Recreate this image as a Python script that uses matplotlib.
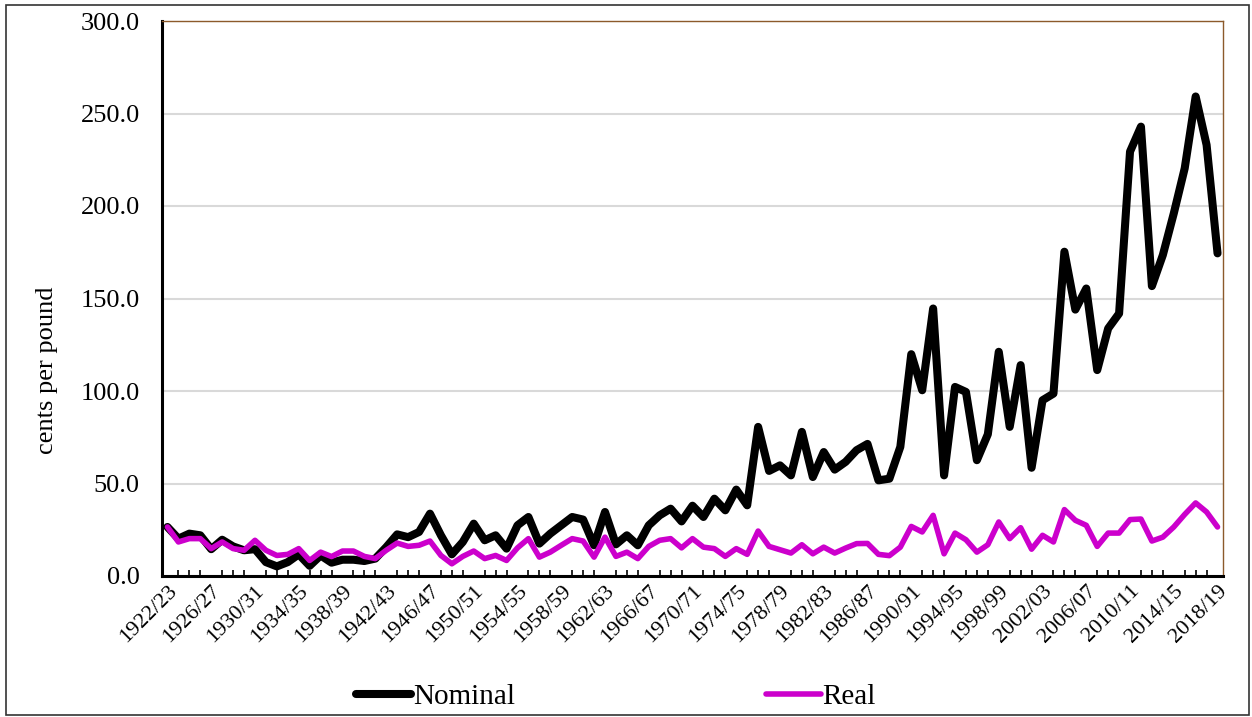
import matplotlib
matplotlib.use("Agg")
import matplotlib.pyplot as plt
from matplotlib.patches import Rectangle

# crop years 1922/23 .. 2018/19
years = [f"{y}/{(y + 1) % 100:02d}" for y in range(1922, 2019)]

nominal = [26.5, 20.2, 22.9, 22.0, 14.5, 19.6, 16.0, 13.9, 14.5, 7.5,
           5.2, 7.5, 11.7, 5.5, 11.1, 7.2, 8.8, 8.8, 8.1, 9.4,
           15.6, 22.5, 21.0, 23.8, 33.7, 22.0, 11.7, 18.4, 28.3, 19.3,
           22.0, 14.8, 27.4, 31.9, 17.5, 22.9, 27.4, 31.9, 30.5, 16.6,
           34.6, 17.1, 22.0, 16.6, 27.4, 32.8, 36.4, 29.5, 38.0, 31.9,
           41.8, 35.5, 46.7, 38.2, 80.6, 56.8, 59.8, 54.4, 77.9, 53.5,
           67.0, 57.5, 61.7, 68.0, 71.4, 51.7, 52.6, 69.8, 119.9, 100.4,
           144.6, 54.4, 102.2, 99.5, 62.6, 76.6, 121.2, 80.6, 114.0, 58.5,
           95.0, 98.6, 175.3, 144.0, 155.4, 111.3, 133.8, 141.9, 229.4, 242.9,
           156.7, 173.5, 196.0, 220.4, 259.2, 233.0, 174.4]

real = [26.5, 18.4, 20.2, 20.2, 14.8, 18.4, 14.8, 13.9, 19.3, 13.9,
        11.1, 11.7, 14.8, 8.4, 12.9, 10.5, 13.5, 13.5, 10.6, 9.4,
        13.9, 17.8, 16.0, 16.6, 18.9, 11.1, 6.6, 10.6, 13.5, 9.4,
        11.1, 8.4, 15.2, 20.2, 10.2, 12.9, 16.6, 20.2, 18.9, 10.2,
        21.0, 10.6, 12.9, 9.4, 16.0, 19.3, 20.2, 15.2, 20.2, 15.6,
        14.8, 10.6, 14.8, 11.7, 24.3, 16.0, 14.2, 12.4, 16.9, 12.0,
        15.6, 12.4, 15.1, 17.5, 17.6, 11.7, 11.0, 15.6, 26.8, 23.8,
        32.8, 12.0, 23.2, 19.6, 12.9, 16.9, 29.2, 20.2, 26.1, 14.5,
        22.0, 18.4, 35.9, 30.1, 27.4, 16.0, 23.2, 23.2, 30.5, 30.8,
        18.9, 21.0, 26.5, 33.3, 39.5, 34.6, 26.5]

plt.rcParams['font.family'] = ['Liberation Serif', 'DejaVu Serif']

fig = plt.figure(figsize=(12.52, 7.17), dpi=100)
ax = fig.add_axes([162/1252, 1 - 576/717, (1223 - 162)/1252, (576 - 21)/717])

x = list(range(len(years)))
ax.plot(x, nominal, color="black", lw=5.8, label="Nominal",
        solid_joinstyle="round", solid_capstyle="round", zorder=3)
ax.plot(x, real, color="#cc00cc", lw=4.0, label="Real",
        solid_joinstyle="round", solid_capstyle="round", zorder=4)

ax.set_xlim(-0.5, len(years) - 0.5)
ax.set_ylim(0, 300)
ax.set_yticks(range(0, 301, 50))
ax.set_yticklabels([f"{v:.1f}" for v in range(0, 301, 50)], fontsize=19)
ax.yaxis.grid(True, color="#d9d9d9", lw=1.5)
ax.set_axisbelow(True)
ax.tick_params(axis='y', length=0, pad=16)

ax.set_xticks(x[::4])
ax.set_xticklabels(years[::4], rotation=45, ha='right', rotation_mode='anchor',
                   fontsize=16)
ax.set_xticks(x, minor=True)
ax.tick_params(axis='x', which='major', length=0, pad=4)
ax.tick_params(axis='x', which='minor', direction='in', length=4, width=1.2)

for s in ['top', 'right']:
    ax.spines[s].set_color("#8c5a2b")
    ax.spines[s].set_linewidth(1.0)
for s in ['left', 'bottom']:
    ax.spines[s].set_color("black")
    ax.spines[s].set_linewidth(2.2)

fig.text(47/1252, 1 - 370/717, "cents per pound", rotation=90,
         ha='center', va='center', fontsize=19)

fig.legend(loc='center', bbox_to_anchor=(616/1252, 1 - 697/717), ncol=2,
           frameon=False, fontsize=21, handlelength=1.9, handletextpad=0.05,
           columnspacing=8.6)

fig.patches.append(Rectangle((6/1252, 2/717), 1243/1252, 710/717,
                             transform=fig.transFigure, fill=False,
                             edgecolor="#333333", lw=1.2))

fig.savefig("out.png", dpi=100)
